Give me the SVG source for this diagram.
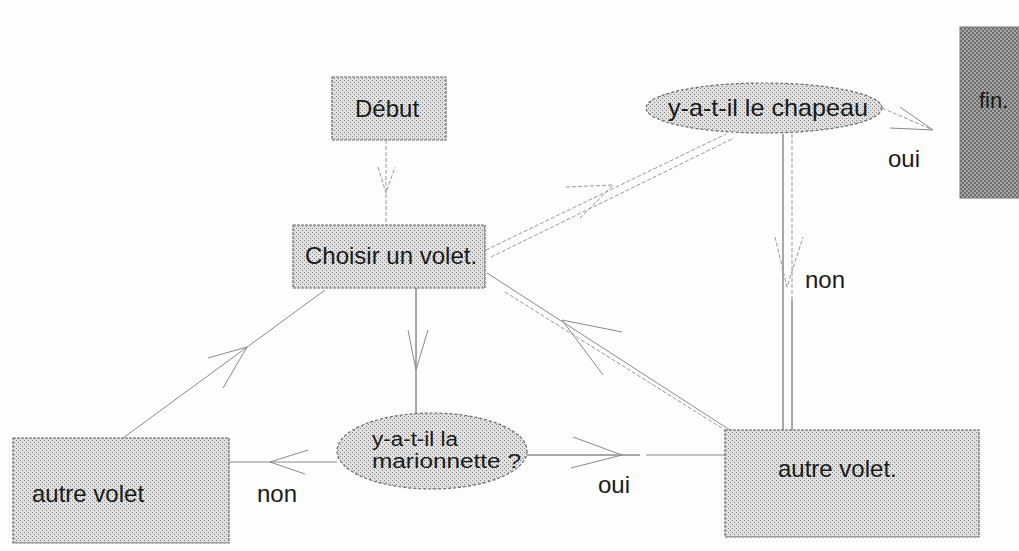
<svg xmlns="http://www.w3.org/2000/svg" width="1019" height="551" viewBox="0 0 1019 551">
<defs>
<pattern id="dots" width="4" height="4" patternUnits="userSpaceOnUse">
<rect width="4" height="4" fill="#e0e0e0"/>
<rect x="0" y="0" width="1" height="1" fill="#808080"/>
<rect x="2" y="2" width="1" height="1" fill="#808080"/>
</pattern>
<pattern id="dark" width="4" height="4" patternUnits="userSpaceOnUse">
<rect width="4" height="4" fill="#a8a8a8"/>
<rect x="0" y="0" width="2" height="2" fill="#6e6e6e"/>
<rect x="2" y="2" width="2" height="2" fill="#6e6e6e"/>
</pattern>
</defs>
<style>
.box{fill:url(#dots);stroke:#6a6a6a;stroke-width:1.2;stroke-dasharray:3 1}
.ell{fill:url(#dots);stroke:#6a6a6a;stroke-width:1.2;stroke-dasharray:3 2}
.t{font-family:"Liberation Sans",Arial,sans-serif;font-size:24px;fill:#1a1a1a}
.c{fill:none;stroke:#8a8a8a;stroke-width:1}
.cs{fill:none;stroke:#555;stroke-width:1}
.cd{fill:none;stroke:#999;stroke-width:1;stroke-dasharray:4 2}
</style>
<rect width="1019" height="551" fill="#fdfdfd"/>
<g id="connectors">
<line class="cd" x1="386" y1="140" x2="386" y2="225"/>
<polyline class="cd" points="378,167 386,193 395,167"/>
<line class="cs" x1="416" y1="288" x2="416" y2="413"/>
<polyline class="c" points="408,330 416,370 428,330"/>
<line class="c" x1="337" y1="462" x2="229" y2="462"/>
<polyline class="c" points="308,450 270,462 305,474"/>
<line class="c" x1="123" y1="438" x2="325" y2="290"/>
<polyline class="c" points="208,358 247,347 223,388"/>
<line class="cs" x1="527" y1="455" x2="640" y2="455"/>
<line class="c" x1="646" y1="455" x2="725" y2="455"/>
<polyline class="c" points="573,437 622,455 571,468"/>
<line class="cd" x1="486" y1="250" x2="726" y2="134"/>
<line class="cd" x1="491" y1="257" x2="734" y2="138"/>
<polyline class="cd" points="566,187 613,185 580,218"/>
<line class="c" x1="487" y1="273" x2="733" y2="432"/>
<line class="cd" x1="505" y1="292" x2="725" y2="430"/>
<polyline class="c" points="622,332 562,320 603,375"/>
<line class="cs" x1="783" y1="134" x2="783" y2="430"/>
<line class="cd" x1="792" y1="134" x2="792" y2="300"/>
<line class="cs" x1="792" y1="300" x2="792" y2="430"/>
<polyline class="cd" points="775,237 787,287 803,237"/>
<line class="cd" x1="882" y1="108" x2="933" y2="130"/>
<polyline class="c" points="900,107 933,130 890,128"/>
</g>
<g id="debut">
<rect class="box" x="332" y="77" width="114" height="63"/>
<text class="t" x="355" y="117">Début</text>
</g>
<g id="choisir">
<rect class="box" x="293" y="225" width="192" height="63"/>
<text class="t" x="305" y="264">Choisir un volet.</text>
</g>
<g id="chapeau">
<ellipse class="ell" cx="764" cy="108" rx="118" ry="25"/>
<text class="t" x="668" y="116" textLength="200" lengthAdjust="spacingAndGlyphs">y-a-t-il le chapeau</text>
</g>
<g id="fin">
<rect x="960" y="27" width="70" height="171" fill="url(#dark)" stroke="#777" stroke-width="1"/>
<text class="t" x="979" y="108" style="font-size:22px">fin.</text>
</g>
<g id="marionnette">
<ellipse class="ell" cx="432" cy="451" rx="95" ry="38"/>
<text class="t" x="372" y="446" style="font-size:20px" textLength="86" lengthAdjust="spacingAndGlyphs">y-a-t-il la</text>
<text class="t" x="372" y="468" style="font-size:20px" textLength="149" lengthAdjust="spacingAndGlyphs">marionnette ?</text>
</g>
<g id="autre-volet-gauche">
<rect class="box" x="13" y="438" width="216" height="105"/>
<text class="t" x="32" y="502">autre volet</text>
</g>
<g id="autre-volet-droite">
<rect class="box" x="725" y="430" width="254" height="107"/>
<text class="t" x="778" y="477">autre volet.</text>
</g>
<g id="labels">
<text class="t" x="257" y="502">non</text>
<text class="t" x="598" y="493">oui</text>
<text class="t" x="805" y="288">non</text>
<text class="t" x="888" y="167">oui</text>
</g>
</svg>
